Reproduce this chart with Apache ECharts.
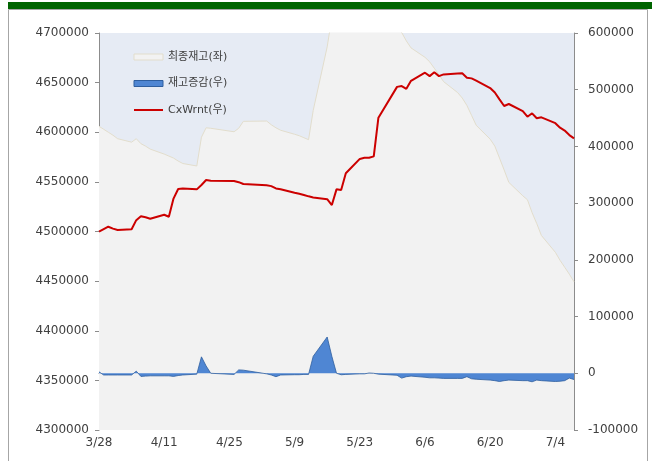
<!DOCTYPE html>
<html>
<head>
<meta charset="utf-8">
<script src="https://cdn.jsdelivr.net/npm/echarts@6/dist/echarts.min.js"></script>
<style>
  html, body { margin: 0; padding: 0; background: #ffffff; }
  #chart { width: 652px; height: 461px; }
</style>
</head>
<body>
<div id="chart"></div>
<script>
// Data (2011, LME business days)
var dates = [
  '3/28','3/29','3/30','3/31','4/1',
  '4/4','4/5','4/6','4/7','4/8',
  '4/11','4/12','4/13','4/14','4/15',
  '4/18','4/19','4/20','4/21',
  '4/26','4/27','4/28',
  '5/3','5/4','5/5','5/6',
  '5/9','5/10','5/11','5/12','5/13',
  '5/16','5/17','5/18','5/19','5/20',
  '5/23','5/24','5/25','5/26','5/27',
  '5/31','6/1','6/2','6/3',
  '6/6','6/7','6/8','6/9','6/10',
  '6/13','6/14','6/15','6/16','6/17',
  '6/20','6/21','6/22','6/23','6/24',
  '6/27','6/28','6/29','6/30','7/1',
  '7/4','7/5','7/6','7/7','7/8'
];
var finalStock = [
  4606000,4603000,4600000,4597000,4593500,
  4590000,4593500,4588500,4586000,4583000,
  4578000,4576000,4574000,4571000,4568500,
  4566000,4595000,4604500,4604000,
  4600500,4604000,4611000,
  4611300,4607500,4604500,4602000,
  4598000,4596500,4594500,4592500,4622000,
  4686000,4716000,4715500,4715000,4714000,
  4713000,4712000,4711500,4711000,4709000,
  4705000,4700500,4692000,4685000,
  4675500,4671000,4664500,4658000,4651000,
  4640000,4634500,4627000,4617000,4607000,
  4593000,4586000,4574000,4562000,4549500,
  4536000,4532000,4519000,4508000,4496000,
  4479000,4471000,4464000,4457000,4449300
];
var stockChange = [
  2500,-3000,-3000,-3000,-3000,
  -3000,3800,-5500,-5000,-4500,
  -4500,-4500,-5500,-4000,-3000,
  -1500,29000,13000,0,
  -2000,6000,5500,
  -1000,-3000,-6000,-3000,
  -2500,-2500,-2000,-2000,30000,
  64000,30000,0,-2600,-2000,
  -1000,-1000,500,0,-1500,
  -3500,-8500,-6000,-5000,
  -7000,-8000,-8000,-8500,-9000,
  -9000,-9000,-6000,-9700,-10500,
  -12000,-13000,-14500,-13000,-12000,
  -13000,-13000,-15000,-12000,-13000,
  -14500,-14000,-13000,-8500,-11000
];
var cxWrnt = [
  249600,254000,258400,255000,252600,
  254000,270000,277000,275000,272500,
  279600,276000,308000,325000,326000,
  324300,332000,340700,339500,
  339000,337000,333700,
  331500,330000,326000,324500,
  318400,316500,314500,312000,310000,
  307000,296600,324300,323000,352600,
  378000,380000,380000,382500,450600,
  505000,506500,501500,515600,
  530000,524000,530700,524000,527000,
  528500,528900,521200,520000,515900,
  503000,495000,483000,471300,474800,
  462400,452400,458400,449600,451300,
  441000,433000,428000,420000,414300
];
var leftTicks = { min: 4300000, max: 4700000, step: 50000 };
var rightTicks = { min: -100000, max: 600000, step: 100000 };
var year = 2011;
var baseDay = Date.UTC(year, 2, 28);

function dayIndex(md) {
  var p = md.split('/');
  return Math.round((Date.UTC(year, +p[0] - 1, +p[1]) - baseDay) / 86400000);
}
function dayLabel(v) {
  var d = new Date(baseDay + v * 86400000);
  return (d.getUTCMonth() + 1) + '/' + d.getUTCDate();
}
function pairs(vals) {
  return dates.map(function (d, i) { return [dayIndex(d), vals[i]]; });
}
function plain(v) { return String(Math.round(v)); }
var lastDay = dayIndex(dates[dates.length - 1]);

var FONT = 'DejaVu Sans, Noto Sans CJK KR, sans-serif';
var chart = echarts.init(document.getElementById('chart'), null, { renderer: 'canvas' });
chart.setOption({
  animation: false,
  backgroundColor: '#ffffff',
  graphic: [
    { type: 'rect', shape: { x: 8, y: 2, width: 644, height: 7 }, style: { fill: '#006400' }, silent: true },
    { type: 'rect', shape: { x: 8.5, y: 9.5, width: 639, height: 460 }, style: { fill: 'none', stroke: '#a6a6a6', lineWidth: 1 }, silent: true }
  ],
  grid: {
    left: 99, right: 78, top: 33, bottom: 31,
    show: true, backgroundColor: '#e6ebf4', borderWidth: 0
  },
  legend: {
    orient: 'vertical', left: 133, top: 50, padding: 0,
    itemWidth: 29, itemHeight: 6, itemGap: 12.5,
    textStyle: { fontFamily: FONT, fontSize: 11, color: '#404040', lineHeight: 14 },
    data: [
      { name: '최종재고(좌)', icon: 'rect', itemStyle: { color: '#f2f2f2', borderColor: '#e2ddcc', borderWidth: 1 } },
      { name: '재고증감(우)', icon: 'rect', itemStyle: { color: '#4f86d3', borderColor: '#2f5e9e', borderWidth: 1 } },
      { name: 'CxWrnt(우)', itemStyle: { color: 'rgba(0,0,0,0)', borderWidth: 0, opacity: 0 } }
    ]
  },
  xAxis: {
    type: 'value', min: 0, max: lastDay, interval: 14,
    splitLine: { show: false },
    axisLine: { show: true, lineStyle: { color: '#8c8c8c' } },
    axisTick: { show: true, length: 4, lineStyle: { color: '#8c8c8c' } },
    axisLabel: {
      margin: 7, color: '#404040', fontFamily: FONT, fontSize: 12, showMaxLabel: false,
      formatter: function (v) { return v % 14 === 0 ? dayLabel(v) : ''; }
    }
  },
  yAxis: [
    {
      type: 'value', position: 'left', min: leftTicks.min, max: leftTicks.max, interval: leftTicks.step,
      splitLine: { show: false },
      axisLine: { show: true, lineStyle: { color: '#8c8c8c' } },
      axisTick: { show: true, length: 4, lineStyle: { color: '#8c8c8c' } },
      axisLabel: { margin: 10, color: '#404040', fontFamily: FONT, fontSize: 12, formatter: plain }
    },
    {
      type: 'value', position: 'right', min: rightTicks.min, max: rightTicks.max, interval: rightTicks.step,
      splitLine: { show: false },
      axisLine: { show: true, lineStyle: { color: '#8c8c8c' } },
      axisTick: { show: true, length: 4, lineStyle: { color: '#8c8c8c' } },
      axisLabel: { margin: 14, color: '#404040', fontFamily: FONT, fontSize: 12, formatter: plain }
    }
  ],
  series: [
    {
      name: '최종재고(좌)', type: 'line', yAxisIndex: 0, data: pairs(finalStock),
      symbol: 'none', clip: true, z: 1,
      lineStyle: { color: '#e2ddcc', width: 1 },
      itemStyle: { color: '#f2f2f2' },
      areaStyle: { color: '#f2f2f2', opacity: 1, origin: 'start' }
    },
    {
      name: '재고증감(우)', type: 'line', yAxisIndex: 1, data: pairs(stockChange),
      symbol: 'none', z: 2,
      lineStyle: { color: '#2f5e9e', width: 0.8 },
      itemStyle: { color: '#4f86d3' },
      areaStyle: { color: '#4f86d3', opacity: 1, origin: 0 }
    },
    {
      name: 'CxWrnt(우)', type: 'line', yAxisIndex: 1, data: pairs(cxWrnt),
      symbol: 'none', z: 3,
      lineStyle: { color: '#cc0000', width: 2 },
      itemStyle: { color: '#cc0000' }
    }
  ]
});
</script>
</body>
</html>
